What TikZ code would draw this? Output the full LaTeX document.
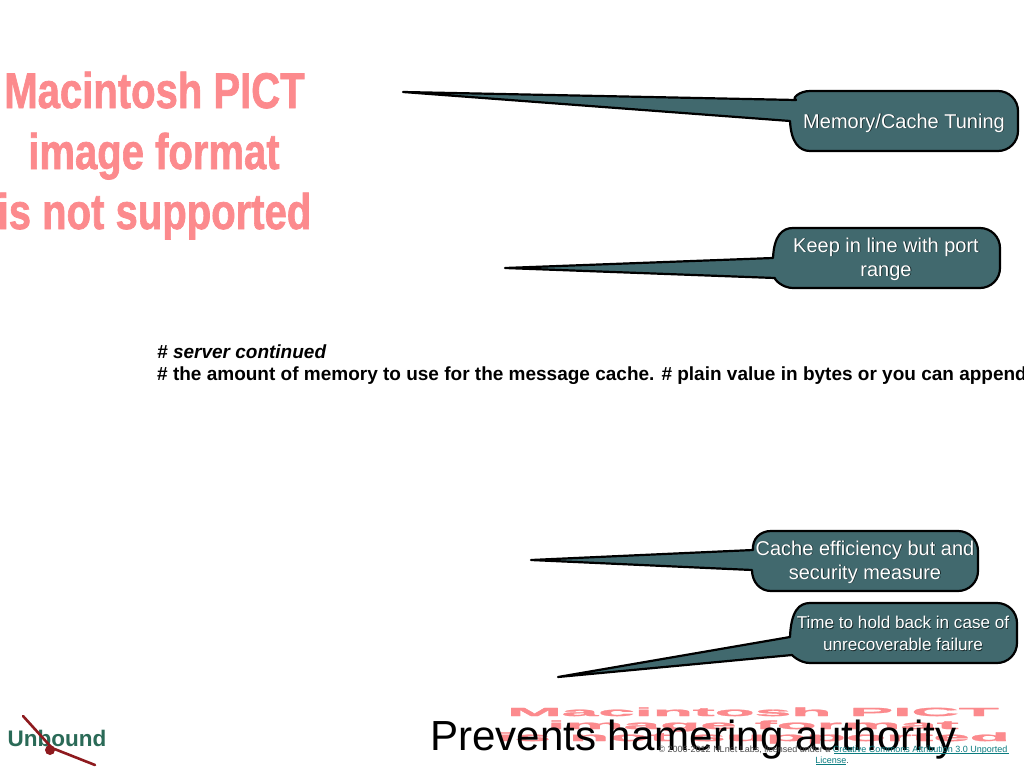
\documentclass[tikz,border=0pt]{standalone}
\usepackage{fontspec}
\setmainfont{Liberation Sans}
\newfontfamily\heavyfont[FakeBold=1.5]{Liberation Sans Bold}
\definecolor{calloutfill}{HTML}{41696E}
\definecolor{pinktext}{HTML}{FC8A8D}
\definecolor{linkteal}{HTML}{0B7C80}
\definecolor{logogreen}{HTML}{2A6A57}
\definecolor{logored}{HTML}{8E1A1E}
\tikzset{
  calloutbody/.style={draw=black,line width=2.2pt,fill=calloutfill,line join=round},
  calloutlabel/.style n args={2}{text=white,align=center,font=\fontsize{#1}{#2}\selectfont,inner sep=0pt},
  calloutshade/.style n args={2}{text=black,align=center,font=\fontsize{#1}{#2}\selectfont,inner sep=0pt,opacity=.6},
  pinkimg/.style={text=pinktext,font=\fontsize{44}{44}\selectfont\heavyfont,inner sep=0pt,transform shape,anchor=base},
  codeline/.style={anchor=base west,inner sep=0pt,font=\fontsize{19}{22}\selectfont\bfseries},
  smallprint/.style={anchor=base,inner sep=0pt,font=\fontsize{9}{10}\selectfont,text=black!70},
}
% #1 x0, #2 y0, #3 x1, #4 y1, #5 tip, #6 tail top join, #7 tail bottom join
\newcommand{\calloutpath}[7]{%
  \path[calloutbody] (#5) -- (#6)
    .. controls (#1+1,#2+8) and (#1+9,#2) .. (#1+20,#2)
    -- (#3-20,#2) .. controls (#3-9,#2) and (#3,#2+9) .. (#3,#2+20)
    -- (#3,#4-20) .. controls (#3,#4-9) and (#3-9,#4) .. (#3-20,#4)
    -- (#1+20,#4) .. controls (#1+9,#4) and (#1+1,#4-9) .. (#7)
    -- cycle;
}
\begin{document}
\begin{tikzpicture}[x=1pt,y=-1pt]
\useasboundingbox (0,0) rectangle (1024,768);
\fill[white] (0,0) rectangle (1024,768);

% unsupported image, top left
\begin{scope}[xscale=0.91,yscale=1.14]
\node[pinkimg] (imgA) at (154.5/0.91,108/1.14) {Macintosh PICT};
\node[pinkimg] (imgB) at (154/0.91,169/1.14) {image format};
\node[pinkimg] (imgC) at (154.5/0.91,229/1.14) {is not supported};
\end{scope}

% unsupported image, squashed, bottom
\begin{scope}[xscale=1.49,yscale=0.27]
\node[pinkimg] (imgD) at (753/1.49,716/0.27) {Macintosh PICT};
\node[pinkimg] (imgE) at (753/1.49,729/0.27) {image format};
\node[pinkimg] (imgF) at (753/1.49,741/0.27) {is not supported};
\end{scope}

% callouts
\calloutpath{790}{91}{1018}{151}{403,92}{796,100}{790,121}
\node[calloutshade={20}{24}] at (904.8,123.8) {Memory/Cache Tuning};
\node[calloutlabel={20}{24}] (memory) at (904,123) {Memory/Cache Tuning};

\calloutpath{773}{228}{1000}{288}{505,268}{773,258}{775,278}
\node[calloutshade={20}{24}] at (886.8,259.8) {Keep in line with port\\range};
\node[calloutlabel={20}{24}] (port) at (886,259) {Keep in line with port\\range};

\calloutpath{751}{531}{978}{591}{531,560}{753,550}{752,570}
\node[calloutshade={20}{24}] at (865.8,562.8) {Cache efficiency but and\\security measure};
\node[calloutlabel={20}{24}] (cache) at (865,562) {Cache efficiency but and\\security measure};

\calloutpath{790}{603}{1017}{663}{558,677}{790,637}{792,655}
\node[calloutshade={17.1}{22}] at (903.8,634.3) {Time to hold back in case of\\unrecoverable failure};
\node[calloutlabel={17.1}{22}] (hold) at (903,633.5) {Time to hold back in case of\\unrecoverable failure};

% code text
\node[codeline] (codeA) at (157,358.5) {\itshape \# server continued};
\node[codeline] (codeB) at (157,380.5) {\# the amount of memory to use for the message cache. \# plain value in bytes or you can append};

% footer
\node[anchor=base west,inner sep=0pt,font=\fontsize{42.1}{44}\selectfont] (prevents) at (430,750) {Prevents hamering authority};
\node[smallprint] (copyright) at (833,752) {© 2006-2012 NLnet Labs, licensed under a \textcolor{linkteal}{Creative Commons Attribution 3.0 Unported}};
\node[smallprint] (license) at (832,763) {\textcolor{linkteal}{License}.};
\draw[linkteal,line width=.6pt] (834,753.5) -- (1009,753.5);
\draw[linkteal,line width=.6pt] (816,764.5) -- (846,764.5);

% logo
\node[anchor=base,inner sep=0pt,text=logogreen,font=\fontsize{22.5}{25}\selectfont\bfseries] (logo) at (57,746.5) {Unbound};
\draw[logored,line width=2.6pt,line cap=round] (23,716) -- (52,748) -- (95,765);
\fill[logored] (50,750) circle (5);
\end{tikzpicture}
\end{document}
